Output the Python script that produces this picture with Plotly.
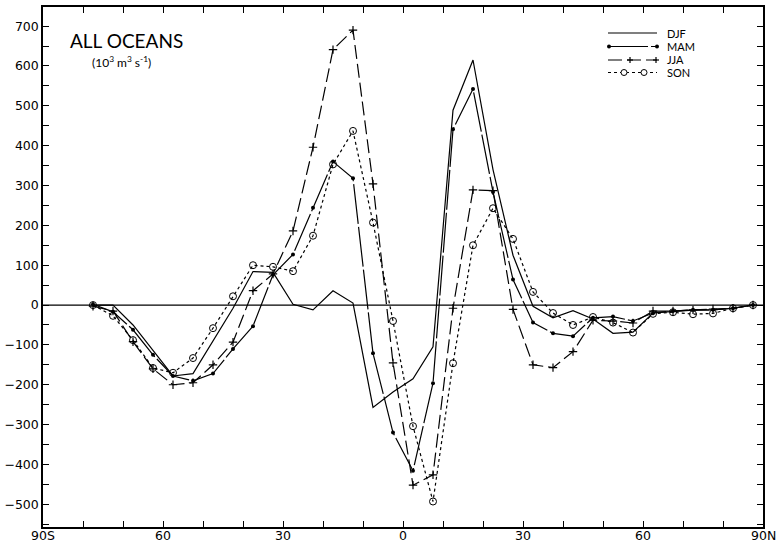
import plotly.graph_objects as go

lat = [-77.5, -72.5, -67.5, -62.5, -57.5, -52.5, -47.5, -42.5, -37.5, -32.5,
       -27.5, -22.5, -17.5, -12.5, -7.5, -2.5, 2.5, 7.5, 12.5, 17.5,
       22.5, 27.5, 32.5, 37.5, 42.5, 47.5, 52.5, 57.5, 62.5, 67.5,
       72.5, 77.5, 82.5, 87.5]

djf = [0, 0, -50, -115, -178, -172, -90, -8, 84, 82,
       2, -12, 36, 5, -257, -218, -185, -105, 489, 615,
       340, 125, -3, -32, -14, -35, -71, -68, -20, -17,
       -13, -12, -8, 0]
mam = [2, -17, -62, -125, -178, -190, -172, -110, -53, 76,
       127, 244, 360, 318, -121, -320, -416, -196, 441, 542,
       284, 64, -44, -71, -78, -32, -29, -40, -20, -15,
       -12, -12, -8, 0]
jja = [-3, -15, -92, -160, -200, -195, -150, -93, 36, 78,
       186, 396, 641, 690, 304, -145, -452, -426, -8, 289,
       287, -11, -150, -157, -117, -38, -40, -45, -15, -15,
       -12, -10, -8, 0]
son = [0, -27, -88, -158, -170, -133, -58, 22, 100, 96,
       85, 174, 353, 437, 207, -40, -304, -493, -146, 150,
       243, 166, 33, -20, -50, -30, -44, -69, -22, -18,
       -23, -21, -8, 0]

series_names = ["DJF", "MAM", "JJA", "SON"]
x_tickvals = [-90, -60, -30, 0, 30, 60, 90]
x_ticktext = ["90S", "60", "30", "0", "30", "60", "90N"]
y_tickvals = [700, 600, 500, 400, 300, 200, 100, 0, -100, -200, -300, -400, -500]

FONT = "Lato"
TICKFONT = "DejaVu Sans"
K = "black"
W, H = 779, 542
ML, MR, MT, MB = 43, 16, 7, 15
PW, PH = W - ML - MR, H - MT - MB

DASH = {"DJF": "solid", "MAM": "40px,3px", "JJA": "14px,5px", "SON": "3px,3px"}


def px(xp):
    return (xp - ML) / PW


def py(yp):
    return (H - MB - yp) / PH


fig = go.Figure()
fig.add_trace(go.Scatter(x=lat, y=djf, name="DJF", mode="lines",
                         line=dict(color=K, width=1.2)))
fig.add_trace(go.Scatter(x=lat, y=mam, name="MAM", mode="lines+markers",
                         line=dict(color=K, width=1.2, dash=DASH["MAM"]),
                         marker=dict(symbol="circle", size=4, color=K)))
fig.add_trace(go.Scatter(x=lat, y=jja, name="JJA", mode="lines+markers",
                         line=dict(color=K, width=1.2, dash=DASH["JJA"]),
                         marker=dict(symbol="cross-thin", size=6,
                                     line=dict(color=K, width=1.2))))
fig.add_trace(go.Scatter(x=lat, y=son, name="SON", mode="lines+markers",
                         line=dict(color=K, width=1.2, dash=DASH["SON"]),
                         marker=dict(symbol="circle-open", size=7,
                                     color=K, line=dict(color=K, width=1))))

shapes = []
annos = []

# zero line across the plot
shapes.append(dict(type="line", xref="paper", yref="y", x0=0, x1=1, y0=0, y1=0,
                   layer="above", line=dict(color=K, width=1.2)))

# ---- hand-made legend (decoration) ----
leg_y = [33, 46.5, 60, 72.5]
for name, yy in zip(series_names, leg_y):
    shapes.append(dict(type="line", xref="paper", yref="paper", layer="above",
                       x0=px(608), x1=px(657), y0=py(yy), y1=py(yy),
                       line=dict(color=K, width=1.2, dash=DASH[name])))
    annos.append(dict(text=name, xref="paper", yref="paper", x=px(665), y=py(yy),
                      xanchor="left", yanchor="middle", showarrow=False,
                      font=dict(size=11, family=FONT)))
    if name == "MAM":
        for xm in (609, 657):
            shapes.append(dict(type="circle", xref="paper", yref="paper", layer="above",
                               xsizemode="pixel", ysizemode="pixel",
                               xanchor=px(xm), yanchor=py(yy),
                               x0=-2, x1=2, y0=-2, y1=2,
                               fillcolor=K, line=dict(color=K, width=0)))
    if name == "JJA":
        for xm in (630, 656):
            shapes.append(dict(type="line", xref="paper", yref="paper", layer="above",
                               xsizemode="pixel", ysizemode="pixel",
                               xanchor=px(xm), yanchor=py(yy),
                               x0=-3, x1=3, y0=0, y1=0, line=dict(color=K, width=1.2)))
            shapes.append(dict(type="line", xref="paper", yref="paper", layer="above",
                               xsizemode="pixel", ysizemode="pixel",
                               xanchor=px(xm), yanchor=py(yy),
                               x0=0, x1=0, y0=-3, y1=3, line=dict(color=K, width=1.2)))
    if name == "SON":
        for xm in (624, 644):
            shapes.append(dict(type="circle", xref="paper", yref="paper", layer="above",
                               xsizemode="pixel", ysizemode="pixel",
                               xanchor=px(xm), yanchor=py(yy),
                               x0=-3, x1=3, y0=-3, y1=3,
                               fillcolor="white", line=dict(color=K, width=1)))

annos.append(dict(text="ALL OCEANS", xref="paper", yref="paper", x=px(68), y=py(41),
                  xanchor="left", yanchor="middle", showarrow=False,
                  font=dict(size=19, family=FONT)))
annos.append(dict(text="(10<sup>3</sup> m<sup>3</sup> s<sup>-1</sup>)", xref="paper",
                  yref="paper", x=px(90), y=py(62), xanchor="left", yanchor="middle",
                  showarrow=False, font=dict(size=12, family=FONT)))

# x tick labels placed tight under the axis, as in the original
for tv, tt in zip(x_tickvals, x_ticktext):
    annos.append(dict(text=tt, xref="x", yref="paper", x=tv, y=py(535),
                      xanchor="center", yanchor="middle", showarrow=False,
                      font=dict(size=12.5, family=TICKFONT)))

fig.update_layout(
    width=W, height=H,
    margin=dict(l=ML, r=MR, t=MT, b=MB, autoexpand=False),
    paper_bgcolor="white", plot_bgcolor="rgba(0,0,0,0)",
    font=dict(family=FONT, color=K, size=13),
    showlegend=False,
    xaxis=dict(range=[-90, 90], tickvals=x_tickvals, showticklabels=False,
               ticks="inside", ticklen=6, tickcolor=K, tickwidth=1.2,
               minor=dict(dtick=10, ticks="inside", ticklen=6, tickcolor=K, tickwidth=1.2),
               showline=True, linecolor=K, linewidth=1.5, mirror="ticks",
               showgrid=False, zeroline=False, automargin=False),
    yaxis=dict(range=[-557, 748], tickvals=y_tickvals,
               ticks="inside", ticklen=6, tickcolor=K, tickwidth=1.2,
               minor=dict(dtick=50, ticks="inside", ticklen=6, tickcolor=K, tickwidth=1.2),
               showline=True, linecolor=K, linewidth=1.5, mirror="ticks",
               showgrid=False, zeroline=False, automargin=False,
               tickfont=dict(size=12.5, family=TICKFONT)),
    shapes=shapes,
    annotations=annos,
)

fig.write_html("out.html", config={"displayModeBar": False},
               post_script="document.body.style.margin='0px';document.body.style.overflow='hidden';")
